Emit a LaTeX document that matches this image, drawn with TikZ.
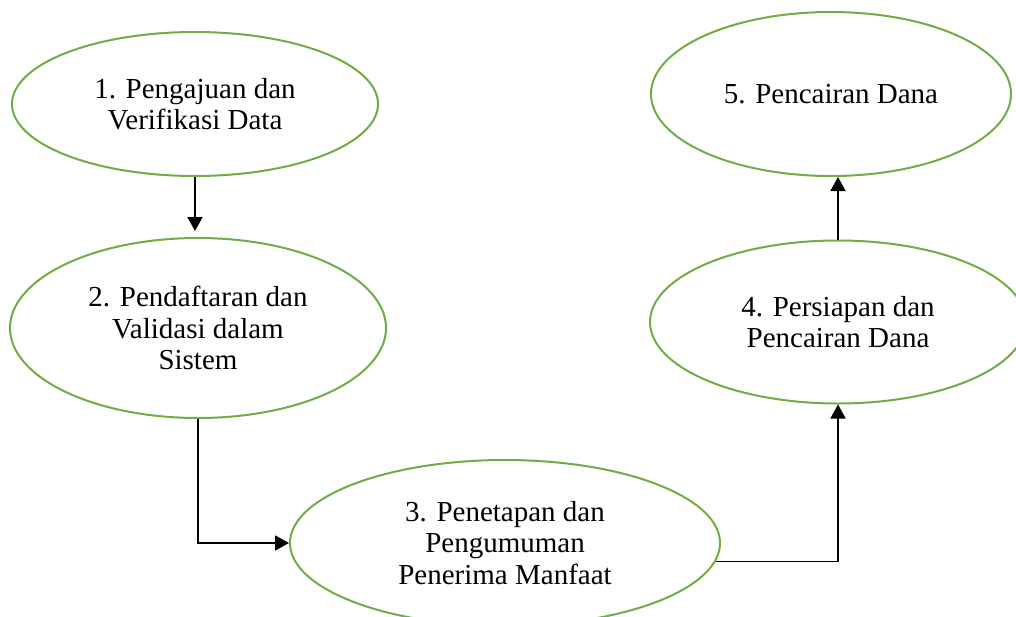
\documentclass[tikz,border=0pt]{standalone}
\usepackage{fontspec}
\setmainfont{Liberation Serif}
\usetikzlibrary{shapes.geometric,arrows.meta}
\definecolor{stepgreen}{RGB}{112,173,71}
\begin{document}
\begin{tikzpicture}[x=1pt,y=-1pt,
    stage/.style={ellipse,draw=stepgreen,line width=2pt,inner sep=0pt,
        align=center,font=\fontsize{29}{31.5}\selectfont},
    flow/.style={-{Triangle[width=15pt,length=14pt]},line width=1.8pt}]
    \useasboundingbox (0,0) rectangle (1016,616);
    % stages
    \node[stage,minimum width=366,minimum height=144] (e1) at (195,104) {1. Pengajuan dan\\Verifikasi Data};
    \node[stage,minimum width=376,minimum height=180] (e2) at (198,328) {2. Pendaftaran dan\\Validasi dalam\\Sistem};
    \node[stage,minimum width=430,minimum height=166] (e3) at (505,543) {3. Penetapan dan\\Pengumuman\\Penerima Manfaat};
    \node[stage,minimum width=376,minimum height=163] (e4) at (838,322) {4. Persiapan dan\\Pencairan Dana};
    \node[stage,minimum width=360,minimum height=164] (e5) at (831,94) {5. Pencairan Dana};
    % connectors
    \draw[flow,shorten >=6pt] (e1.south) -- (e1.south |- e2.north);
    \draw[flow] (e2.south) |- (e3.west);
    \draw[flow] (e3.-5) -| (e4.south);
    \draw[flow] (e4.north) -- (e4.north |- e5.south);
\end{tikzpicture}
\end{document}
